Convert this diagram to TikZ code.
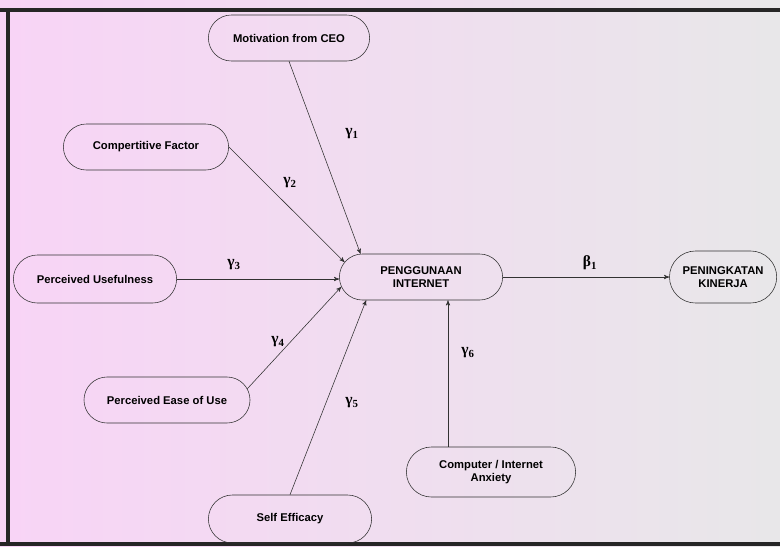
\documentclass[tikz,border=0pt]{standalone}
\usepackage{fontspec}
\setmainfont{Liberation Sans}
\newfontfamily\grk{Liberation Serif}
\usepackage{tikz}
\usetikzlibrary{arrows,shapes.misc}
\usetikzlibrary{positioning}
\definecolor{scanpink}{RGB}{248,212,246}
\definecolor{scanmid}{RGB}{246,238,246}
\definecolor{scangrey}{RGB}{232,231,233}
\definecolor{inkgrey}{RGB}{50,50,50}
\tikzset{
    factor/.style={
           rounded rectangle,
           draw=inkgrey, thin,
           minimum width=4.15cm,
           minimum height=1.15cm,
           inner sep=1pt,
           align=center,
           font=\fontsize{8}{9}\selectfont\bfseries,
           },
    coef/.style={
           inner sep=0pt,
           font=\grk\bfseries\fontsize{11}{11}\selectfont,
           },
}

\begin{document}
\begin{tikzpicture}[x=0.025cm,y=-0.025cm,->,>=stealth',draw=inkgrey,thin]
 \useasboundingbox (0,0) rectangle (780,546);
 \shade[left color=scanpink,middle color=scanmid,right color=scangrey,draw=none]
   (0,0) rectangle (780,546);
 % frame
 \draw[-,line width=2.2pt,black!85] (0,10) -- (780,10);
 \draw[-,line width=2.2pt,black!85] (8,10) -- (8,546);
 \draw[-,line width=2.2pt,black!85] (0,544) -- (780,544);

 \node[factor] (peng) at (421,277) {PENGGUNAAN\\INTERNET};
 \node[factor,
 right of=peng,
 node distance=7.55cm,
 minimum width=2.75cm,
 minimum height=1.3cm] (penk) {PENINGKATAN\\KINERJA};
 \node[factor,minimum width=4.1cm] (mot) at (289,38) {Motivation from CEO};
 \node[factor,minimum width=4.2cm] (comp) at (146,147) {Compertitive Factor};
 \node[factor,minimum height=1.2cm] (use) at (95,279) {Perceived Usefulness};
 \node[factor,minimum width=4.22cm] (ease) at (167,400) {Perceived Ease of Use};
 \node[factor,minimum height=1.2cm] (self) at (290,519) {Self Efficacy};
 \node[factor,
 minimum width=4.3cm,
 minimum height=1.25cm] (anx) at (491,472) {Computer / Internet\\Anxiety};

 \node[coef] (g1) at (352,134) {γ\textsubscript{1}};
 \node[coef] (g2) at (290,183) {γ\textsubscript{2}};
 \node[coef] (g3) at (234,265) {γ\textsubscript{3}};
 \node[coef] (g4) at (278,342) {γ\textsubscript{4}};
 \node[coef] (g5) at (352,403) {γ\textsubscript{5}};
 \node[coef] (g6) at (468,353) {γ\textsubscript{6}};
 \node[coef] (b1) at (590,263) {β\textsubscript{1}};

 \path
  (mot.south) edge (peng.159)
  (comp.east) edge (peng.169)
  (use.east) edge (use.east -| peng.west)
  (ease.8) edge (peng.187)
  (self.north) edge (peng.203)
  ([xshift=-1.075cm]anx.north) edge ([xshift=-1.075cm]anx.north |- peng.south)
  (peng.east) edge (penk.west)
 ;
\end{tikzpicture}
\end{document}
